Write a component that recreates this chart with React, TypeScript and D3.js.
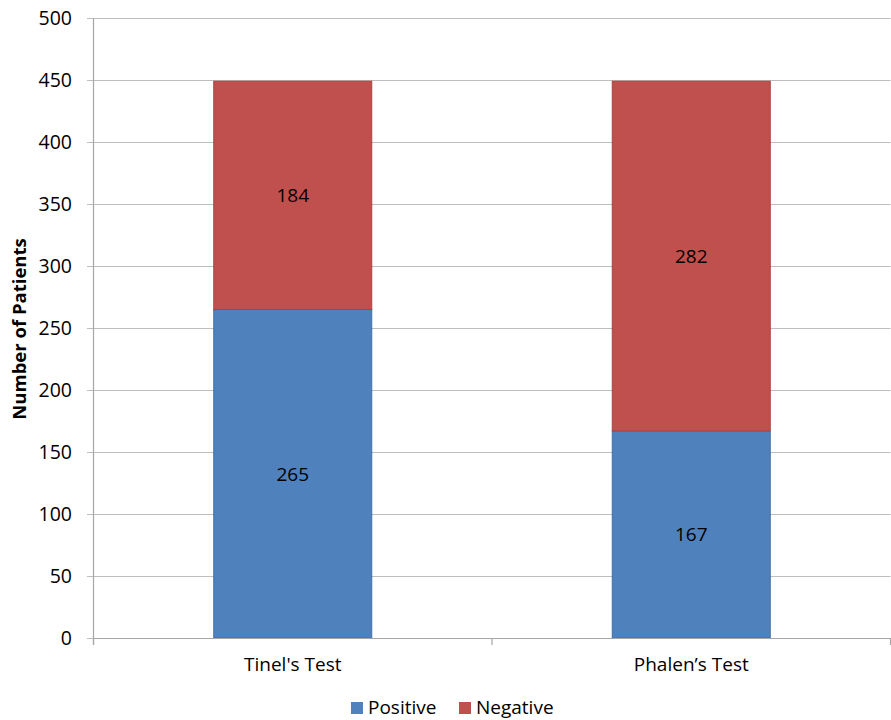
import React from "react";
import * as d3 from "d3";

const categories = ["Tinel's Test", "Phalen\u2019s Test"];
const positive = [265, 167];
const negative = [184, 282];
const seriesNames = ["Positive", "Negative"];
const yTicks = [0, 50, 100, 150, 200, 250, 300, 350, 400, 450, 500];

const W = 891;
const H = 720;
const colors = ["#4F81BD", "#C0504D"];
const strokes = ["#3F6FA8", "#A84340"];
const FONT = "'Open Sans', Lato, sans-serif";

export default function App() {
  const left = 93.5;
  const right = 890.5;
  const top = 18;
  const bottom = 638;
  const x = d3.scaleBand<string>().domain(categories).range([left, right]).paddingInner(0).paddingOuter(0);
  const y = d3.scaleLinear().domain([0, 500]).range([bottom, top]);
  const barW = 158;

  const rows = categories.map((c, i) => ({ cat: c, Positive: positive[i], Negative: negative[i] }));
  const stack = d3.stack<any>().keys(seriesNames)(rows);

  return (
    <div style={{ position: "absolute", left: 0, top: 0 }}>
      <svg width={W} height={H} style={{ display: "block", background: "#fff" }} fontFamily={FONT}>
        {yTicks.map((t) => (
          <g key={t}>
            <line x1={87} x2={right} y1={Math.round(y(t)) + 0.5} y2={Math.round(y(t)) + 0.5} stroke="#BDBDBD" strokeWidth={1.2} />
            <text x={72} y={y(t)} dy="0.36em" textAnchor="end" fontSize={19.5} fill="#000">{t}</text>
          </g>
        ))}
        <line x1={left} x2={left} y1={top} y2={645} stroke="#A6A6A6" strokeWidth={1.2} />
        {[left, left + x.bandwidth(), left + 2 * x.bandwidth()].map((tx, i) => (
          <line key={i} x1={tx} x2={tx} y1={bottom} y2={645} stroke="#A6A6A6" strokeWidth={1.2} />
        ))}
        {stack.map((s, si) => (
          <g key={s.key}>
            {s.map((d, i) => {
              const cx = (x(categories[i]) as number) + x.bandwidth() / 2;
              const y0 = y(d[0]);
              const y1 = y(d[1]);
              return (
                <g key={i}>
                  <rect x={cx - barW / 2} y={y1} width={barW} height={y0 - y1} fill={colors[si]} stroke={strokes[si]} strokeWidth={1} />
                  <text x={cx} y={(y0 + y1) / 2} dy="0.36em" textAnchor="middle" fontSize={19} fill="#000">
                    {d[1] - d[0]}
                  </text>
                </g>
              );
            })}
          </g>
        ))}
        <line x1={left} x2={right} y1={bottom + 0.5} y2={bottom + 0.5} stroke="#A6A6A6" strokeWidth={1.2} />
        {categories.map((c) => (
          <text key={c} x={(x(c) as number) + x.bandwidth() / 2} y={671} textAnchor="middle" fontSize={19} fill="#000">{c}</text>
        ))}
        <text transform={`translate(26,${(top + bottom) / 2 + 1}) rotate(-90)`} textAnchor="middle" fontSize={18.5} fontWeight="bold" fill="#000">
          Number of Patients
        </text>
        {seriesNames.map((n, i) => {
          const lx = i === 0 ? 351 : 459;
          return (
            <g key={n}>
              <rect x={lx} y={702} width={12} height={12} fill={colors[i]} />
              <text x={lx + 17} y={714} fontSize={19} fill="#000">{n}</text>
            </g>
          );
        })}
      </svg>
    </div>
  );
}
